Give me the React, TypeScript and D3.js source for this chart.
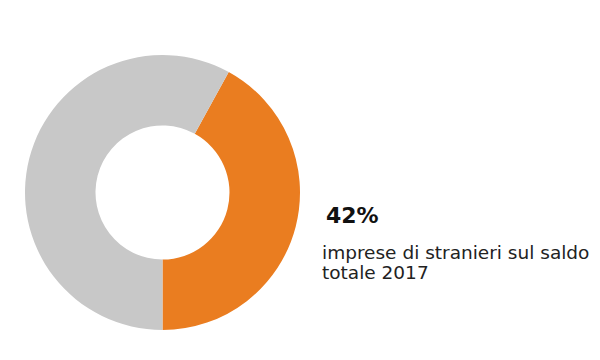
import React from 'react';
import * as d3 from 'd3';

const labels = ['stranieri', 'altri'];
const values = [42, 58];
const colors = ['#EA7D20', '#C8C8C8'];
const bigLabel = '42%';
const captionLines = ['imprese di stranieri sul saldo', 'totale 2017'];

const App = () => {
  const width = 600;
  const height = 360;
  const cx = 162.5;
  const cy = 192.5;
  const outer = 137.5;
  const inner = 67;

  // orange slice ends exactly at the bottom of the ring
  const total = d3.sum(values);
  const start = Math.PI - (2 * Math.PI * values[0]) / total;
  const pie = d3.pie<number>().sort(null).startAngle(start).endAngle(start + 2 * Math.PI);
  const arcs = pie(values);
  const arc = d3.arc<d3.PieArcDatum<number>>().innerRadius(inner).outerRadius(outer);

  return (
    <svg width={width} height={height} style={{ position: 'absolute', left: 0, top: 0, background: '#fff' }}>
      <g transform={`translate(${cx},${cy})`}>
        {arcs.map((a, i) => (
          <path key={labels[i]} d={arc(a) || ''} fill={colors[i]} />
        ))}
      </g>
      <text x={326} y={223} fontFamily="DejaVu Sans, sans-serif" fontWeight="bold" fontSize={22} fill="#111">
        {bigLabel}
      </text>
      {captionLines.map((t, i) => (
        <text key={i} x={322} y={259 + i * 20} fontFamily="DejaVu Sans, sans-serif" fontSize={18.5} fill="#222">
          {t}
        </text>
      ))}
    </svg>
  );
};

export default App;
